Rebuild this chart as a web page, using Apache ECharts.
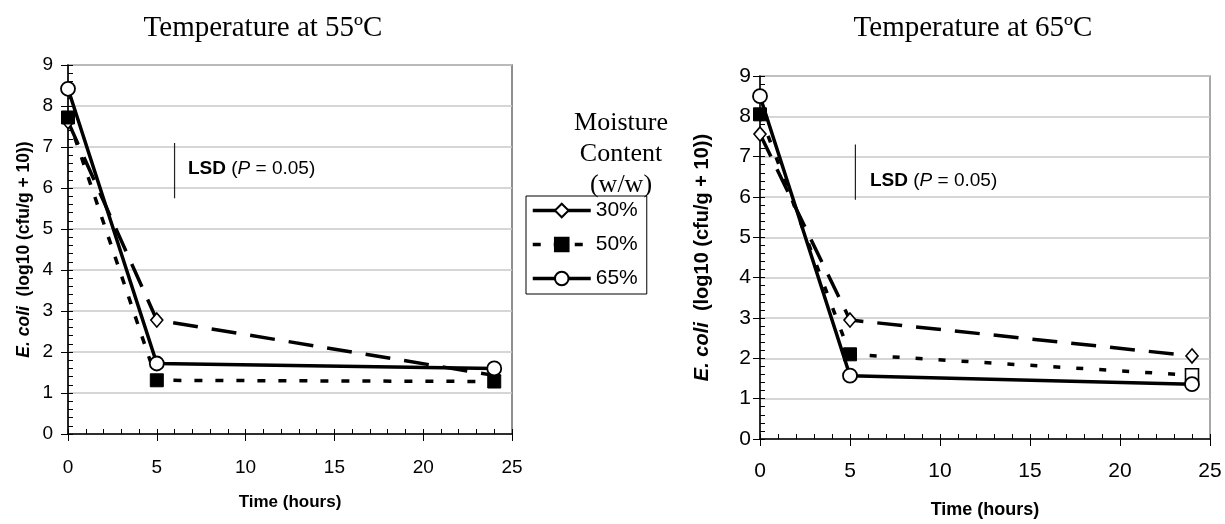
<!DOCTYPE html>
<html><head><meta charset="utf-8">
<script src="https://cdn.jsdelivr.net/npm/echarts@6/dist/echarts.min.js"></script>
<style>html,body{margin:0;padding:0;background:#fff}#c{width:1225px;height:524px}</style>
</head><body><div id="c"></div>
<script>
// ---- data ----
const hours = [0, 5, 24];
const seriesNames = ['30%', '50%', '65%'];
const t55_30 = [7.62, 2.78, 1.43];
const t55_50 = [7.72, 1.31, 1.28];
const t55_65 = [8.42, 1.72, 1.60];
const t65_30 = [7.56, 2.95, 2.06];
const t65_50 = [8.05, 2.10, 1.58];
const t65_65 = [8.50, 1.57, 1.36];
const lsd55 = [[6, 7.1], [6, 5.75]];
const lsd65 = [[5.3, 7.3], [5.3, 5.93]];
const titles = ['Temperature at 55ºC', 'Temperature at 65ºC'];
const yName = '{i|E. coli}  (log10 (cfu/g + 10))';
const xName = 'Time (hours)';
const legendTitle = ['Moisture', 'Content', '(w/w)'];

// ---- styling ----
const SANS = '"Liberation Sans", Arial, sans-serif';
const SERIF = '"Liberation Serif", "Times New Roman", serif';
const styleOf = {
  '30%': {symbol: 'diamond', symbolSize: [12, 14], itemStyle: {color: '#fff', borderColor: '#000', borderWidth: 1.6}, lineStyle: {color: '#000', width: 3.5, type: [25, 14]}},
  '50%': {symbol: 'rect', symbolSize: 13, itemStyle: {color: '#000', borderColor: '#000', borderWidth: 1}, lineStyle: {color: '#000', width: 3.5, type: [8, 13]}},
  '65%': {symbol: 'circle', symbolSize: 14, itemStyle: {color: '#fff', borderColor: '#000', borderWidth: 1.8}, lineStyle: {color: '#000', width: 3.5, type: 'solid'}}
};

function pts(vals) { return hours.map((h, i) => [h, vals[i]]); }

function mkSeries(name, data, gi, dashOverride) {
  const s = styleOf[name];
  const ls = Object.assign({}, s.lineStyle);
  if (dashOverride) ls.type = dashOverride;
  return {
    type: 'line', name: name, xAxisIndex: gi * 2, yAxisIndex: gi * 2, data: data,
    symbol: s.symbol, symbolSize: s.symbolSize, showSymbol: true,
    itemStyle: s.itemStyle, lineStyle: ls, emphasis: {disabled: true}, silent: true
  };
}

function lsdSeries(data, gi) {
  return {type: 'line', name: 'LSD', xAxisIndex: gi * 2, yAxisIndex: gi * 2, data: data,
    symbol: 'none', lineStyle: {color: '#222', width: 1.2}, silent: true, emphasis: {disabled: true}};
}

function xAxes(gi, fs, margin, nameGap, nameFs) {
  return [
    {type: 'value', gridIndex: gi, min: 0, max: 25, interval: 5, position: 'bottom',
      axisLine: {show: true, lineStyle: {color: '#000', width: 1.5}},
      axisTick: {show: true, inside: false, length: 7, lineStyle: {color: '#000', width: 1}},
      axisLabel: {fontSize: fs, fontFamily: SANS, color: '#000', margin: margin},
      splitLine: {show: false},
      name: xName, nameLocation: 'middle', nameGap: nameGap,
      nameTextStyle: {fontSize: nameFs, fontFamily: SANS, fontWeight: 'bold', color: '#000'}},
    {type: 'value', gridIndex: gi, min: 0, max: 25, interval: 1, position: 'bottom',
      axisLine: {show: false}, axisLabel: {show: false}, splitLine: {show: false},
      axisTick: {show: true, inside: true, length: 5, lineStyle: {color: '#000', width: 1}}}
  ];
}

function yAxes(gi, fs, margin, nameGap, nameFs) {
  return [
    {type: 'value', gridIndex: gi, min: 0, max: 9, interval: 1, position: 'left',
      axisLine: {show: true, lineStyle: {color: '#000', width: 1.5}},
      axisTick: {show: true, inside: false, length: 7, lineStyle: {color: '#000', width: 1}},
      axisLabel: {fontSize: fs, fontFamily: SANS, color: '#000', margin: margin},
      splitLine: {show: true, lineStyle: {color: '#c8c8c8', width: 1.5}},
      name: yName, nameLocation: 'middle', nameGap: nameGap,
      nameTextStyle: {fontSize: nameFs, fontFamily: SANS, fontWeight: 'bold', color: '#000',
        rich: {i: {fontSize: nameFs, fontFamily: SANS, fontWeight: 'bold', fontStyle: 'italic', color: '#000'}}}},
    {type: 'value', gridIndex: gi, min: 0, max: 9, interval: 0.2, position: 'left',
      axisLine: {show: false}, axisLabel: {show: false}, splitLine: {show: false},
      axisTick: {show: true, inside: true, length: 5, lineStyle: {color: '#000', width: 1}}}
  ];
}

function text(x, y, str, font, align) {
  return {type: 'text', x: x, y: y, silent: true,
    style: {text: str, font: font, fill: '#000', align: align || 'center', verticalAlign: 'middle'}};
}
function lsdText(x, y) {
  return {type: 'text', x: x, y: y, silent: true,
    style: {text: '{b|LSD} ({i|P} = 0.05)', fontSize: 19, fontFamily: SANS, fill: '#000',
      align: 'left', verticalAlign: 'middle',
      rich: {b: {fontWeight: 'bold', fontSize: 19, fontFamily: SANS}, i: {fontStyle: 'italic', fontSize: 19, fontFamily: SANS}}}};
}

const r65_50 = pts(t65_50);
r65_50[2] = {value: r65_50[2], itemStyle: {color: '#fff', borderColor: '#000', borderWidth: 1.6}};

const option = {
  animation: false,
  backgroundColor: '#fff',
  grid: [
    {left: 68, top: 65, width: 444, height: 369, show: true, borderColor: '#6a6a6a', borderWidth: 1.5},
    {left: 760, top: 76, width: 450, height: 369, show: true, borderColor: '#8a8a8a', borderWidth: 1.5}
  ],
  xAxis: [].concat(xAxes(0, 19, 24, 60, 17), xAxes(1, 21, 22, 62, 18)),
  yAxis: [].concat(yAxes(0, 19, 15, 35, 17.5), yAxes(1, 21, 9, 48, 20)),
  legend: {
    orient: 'vertical', left: 526, top: 196, padding: [4, 9, 5, 5], itemGap: 13,
    itemWidth: 58, itemHeight: 17, borderColor: '#000', borderWidth: 1, selectedMode: false,
    lineStyle: {width: 3.5},
    textStyle: {fontSize: 21, fontFamily: SANS, color: '#000'},
    data: [{name: '30%', lineStyle: {type: 'solid', width: 3.5}}, {name: '50%'}, {name: '65%'}]
  },
  series: [
    mkSeries('30%', pts(t55_30), 0),
    mkSeries('50%', pts(t55_50), 0),
    mkSeries('65%', pts(t55_65), 0),
    lsdSeries(lsd55, 0),
    mkSeries('30%', pts(t65_30), 1),
    mkSeries('50%', r65_50, 1, [7, 16]),
    mkSeries('65%', pts(t65_65), 1),
    lsdSeries(lsd65, 1)
  ],
  graphic: [
    text(263, 28, titles[0], '29px ' + SERIF),
    text(973, 28, titles[1], '29px ' + SERIF),
    text(621, 123, legendTitle[0], '26px ' + SERIF),
    text(621, 154, legendTitle[1], '26px ' + SERIF),
    text(621, 185, legendTitle[2], '26px ' + SERIF),
    lsdText(188, 169),
    lsdText(870, 181)
  ]
};
const chart = echarts.init(document.getElementById('c'), null, {renderer: 'canvas'});
chart.setOption(option);
</script></body></html>
